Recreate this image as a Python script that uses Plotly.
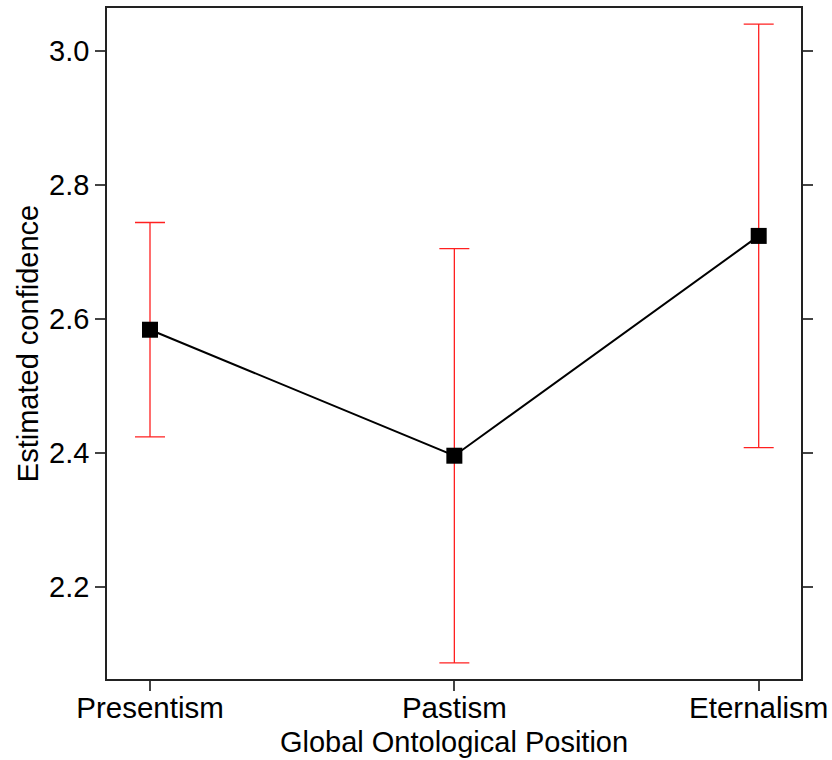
import plotly.graph_objects as go

categories = ["Presentism", "Pastism", "Eternalism"]
means = [2.584, 2.396, 2.724]
errors = [0.160, 0.309, 0.316]
y_ticks = [2.2, 2.4, 2.6, 2.8, 3.0]

fig = go.Figure()
fig.add_trace(go.Scatter(
    x=[0, 1, 2], y=means, mode="lines+markers",
    line=dict(color="black", width=2),
    marker=dict(symbol="square", size=16, color="black"),
    error_y=dict(type="data", array=errors, visible=True,
                 color="#ff2020", thickness=1.3, width=15),
    showlegend=False,
))

font = "Liberation Sans, Arial, sans-serif"
fig.update_layout(
    width=832, height=760,
    margin=dict(l=107, r=31, t=8, b=81, autoexpand=False),
    plot_bgcolor="white", paper_bgcolor="white",
    font=dict(family=font, color="black", size=29),
    xaxis=dict(
        range=[-0.1413, 2.139], tickvals=[0, 1, 2], ticktext=categories,
        showgrid=False, zeroline=False, automargin=False,
        showline=True, linecolor="#222", linewidth=1.5, mirror=True,
        ticks="outside", ticklen=10, tickcolor="#444", tickwidth=1.5,
        tickfont=dict(size=29.5), ticklabelstandoff=-8,
        title=dict(text="Global Ontological Position", font=dict(size=29), standoff=9),
    ),
    yaxis=dict(
        range=[2.0628, 3.0641], tickvals=y_ticks,
        ticktext=[f"{v:.1f}" for v in y_ticks],
        showgrid=False, zeroline=False, automargin=False,
        showline=True, linecolor="#222", linewidth=1.5, mirror="ticks",
        ticks="outside", ticklen=10, tickcolor="#444", tickwidth=1.5,
        tickfont=dict(size=29),
        title=dict(text="Estimated confidence", font=dict(size=29), standoff=2),
    ),
)
fig.write_html("out.html", config={"displayModeBar": False},
               post_script="document.body.style.margin='0px';")
